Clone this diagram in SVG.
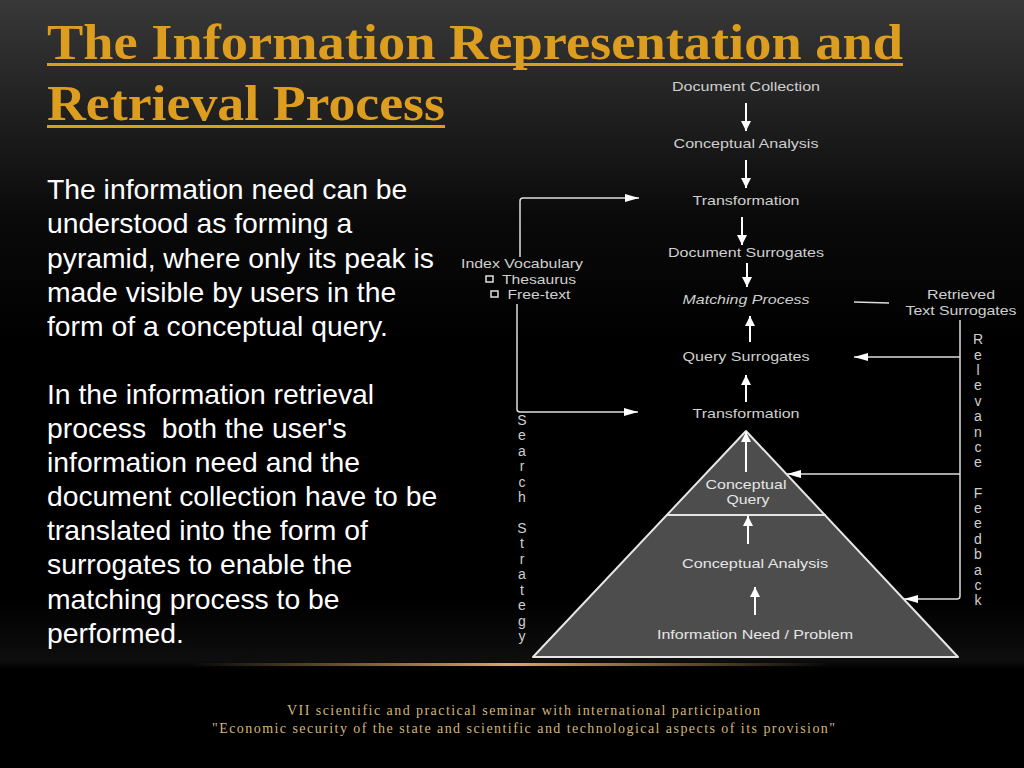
<svg xmlns="http://www.w3.org/2000/svg" width="1024" height="768" viewBox="0 0 1024 768">
<style>
.title{font-family:"Liberation Serif",serif;font-weight:bold;font-size:51px;fill:#dd9e1f}
.body{font-family:"Liberation Sans",Arial,sans-serif;font-size:28.3px;fill:#fff}
.lab{font-family:"Liberation Sans",Arial,sans-serif;font-size:13px;fill:#cfcfcf;text-anchor:middle}
.py{font-family:"Liberation Sans",Arial,sans-serif;font-size:13.5px;fill:#e6e6e6;text-anchor:middle}
.v{font-family:"Liberation Sans",Arial,sans-serif;font-size:14px;fill:#cfcfcf;text-anchor:middle}
.foot{font-family:"Liberation Serif",serif;font-size:14px;fill:#d2b67a}
.c{fill:none;stroke:#fff;stroke-width:2}
.t{fill:none;stroke:#dedede;stroke-width:1.5}
</style>
<defs>
<linearGradient id="bg" x1="0" y1="0" x2="0" y2="1"><stop offset="0" stop-color="#383838"/><stop offset="0.28" stop-color="#0a0a0a"/><stop offset="0.45" stop-color="#000"/><stop offset="0.78" stop-color="#000"/><stop offset="0.86" stop-color="#0e0e0e"/><stop offset="0.872" stop-color="#000"/><stop offset="1" stop-color="#000"/></linearGradient>
<linearGradient id="gold"><stop offset="0" stop-color="#c9a060" stop-opacity="0"/><stop offset="0.5" stop-color="#d8aa60"/><stop offset="1" stop-color="#c9a060" stop-opacity="0"/></linearGradient>
<marker id="a" viewBox="0 0 10 10" refX="10" refY="5" markerUnits="userSpaceOnUse" markerWidth="10" markerHeight="10" orient="auto"><path d="M0 0L10 5L0 10Z" fill="#fff"/></marker>
<marker id="b" viewBox="0 0 14 8" refX="14" refY="4" markerUnits="userSpaceOnUse" markerWidth="14" markerHeight="8" orient="auto"><path d="M0 0L14 4L0 8Z" fill="#fff"/></marker>
</defs>
<rect width="1024" height="768" fill="url(#bg)"/>
<rect x="190" y="663" width="640" height="3" fill="url(#gold)"/>

<g id="heading">
<text class="title" x="47" y="59" textLength="856" lengthAdjust="spacingAndGlyphs">The Information Representation and</text>
<rect x="47" y="63" width="856" height="3" fill="#dd9e1f"/>
<text class="title" x="47" y="120" textLength="398" lengthAdjust="spacingAndGlyphs">Retrieval Process</text>
<rect x="47" y="125" width="398" height="3" fill="#dd9e1f"/>
</g>

<g id="body-text">
<text class="body" x="47" y="199">The information need can be</text>
<text class="body" x="47" y="233">understood as forming a</text>
<text class="body" x="47" y="268">pyramid, where only its peak is</text>
<text class="body" x="47" y="302">made visible by users in the</text>
<text class="body" x="47" y="336">form of a conceptual query.</text>
<text class="body" x="47" y="404">In the information retrieval</text>
<text class="body" x="47" y="438" xml:space="preserve">process  both the user's</text>
<text class="body" x="47" y="472">information need and the</text>
<text class="body" x="47" y="506">document collection have to be</text>
<text class="body" x="47" y="540">translated into the form of</text>
<text class="body" x="47" y="574">surrogates to enable the</text>
<text class="body" x="47" y="609">matching process to be</text>
<text class="body" x="47" y="643">performed.</text>
</g>

<g id="pyramid">
<path d="M746 431L958 657H533Z" fill="#4d4d4d" stroke="#e6e6e6" stroke-width="2" stroke-linejoin="round"/>
<line x1="666" y1="515" x2="826" y2="515" stroke="#e6e6e6" stroke-width="2"/>
</g>

<g id="connectors">
<line class="c" x1="746" y1="103" x2="746" y2="131" marker-end="url(#a)"/>
<line class="c" x1="746" y1="160" x2="746" y2="188" marker-end="url(#a)"/>
<line class="c" x1="742" y1="217" x2="742" y2="245" marker-end="url(#a)"/>
<line class="c" x1="747" y1="263" x2="747" y2="287" marker-end="url(#a)"/>
<line class="c" x1="750" y1="342" x2="750" y2="316" marker-end="url(#a)"/>
<line class="c" x1="746" y1="402" x2="746" y2="375" marker-end="url(#a)"/>
<line class="c" x1="746" y1="472" x2="746" y2="432" marker-end="url(#a)"/>
<line class="c" x1="748" y1="544" x2="748" y2="516" marker-end="url(#a)"/>
<line class="c" x1="755" y1="615" x2="755" y2="587" marker-end="url(#a)"/>
<path class="t" d="M520 257V201Q520 198 523 198H639" marker-end="url(#b)"/>
<path class="t" d="M517 304V409Q517 412 520 412H638" marker-end="url(#b)"/>
<line class="t" x1="854" y1="302" x2="889" y2="303"/>
<path class="t" d="M960 320V596Q960 599 957 599H904" marker-end="url(#b)"/>
<line class="t" x1="960" y1="357" x2="854" y2="357" marker-end="url(#b)"/>
<line class="t" x1="960" y1="474" x2="787" y2="474" marker-end="url(#b)"/>
</g>

<g id="document-collection"><text class="lab" x="746" y="91" textLength="148" lengthAdjust="spacingAndGlyphs">Document Collection</text></g>
<g id="conceptual-analysis-top"><text class="lab" x="746" y="148" textLength="145" lengthAdjust="spacingAndGlyphs">Conceptual Analysis</text></g>
<g id="transformation-top"><text class="lab" x="746" y="205" textLength="107" lengthAdjust="spacingAndGlyphs">Transformation</text></g>
<g id="document-surrogates"><text class="lab" x="746" y="257" textLength="156" lengthAdjust="spacingAndGlyphs">Document Surrogates</text></g>
<g id="matching-process"><text class="lab" x="746" y="304" font-style="italic" textLength="127" lengthAdjust="spacingAndGlyphs">Matching Process</text></g>
<g id="query-surrogates"><text class="lab" x="746" y="361" textLength="127" lengthAdjust="spacingAndGlyphs">Query Surrogates</text></g>
<g id="transformation-bottom"><text class="lab" x="746" y="418" textLength="107" lengthAdjust="spacingAndGlyphs">Transformation</text></g>
<g id="index-vocabulary">
<text class="lab" x="522" y="268" textLength="122" lengthAdjust="spacingAndGlyphs">Index Vocabulary</text>
<rect x="486" y="276" width="7" height="6" fill="none" stroke="#dedede" stroke-width="1.5"/>
<text class="lab" x="539" y="284" textLength="74" lengthAdjust="spacingAndGlyphs">Thesaurus</text>
<rect x="491" y="291" width="7" height="6" fill="none" stroke="#dedede" stroke-width="1.5"/>
<text class="lab" x="539" y="299" textLength="63" lengthAdjust="spacingAndGlyphs">Free-text</text>
</g>
<g id="retrieved-text-surrogates">
<text class="lab" x="961" y="299" textLength="68" lengthAdjust="spacingAndGlyphs">Retrieved</text>
<text class="lab" x="961" y="315" textLength="111" lengthAdjust="spacingAndGlyphs">Text Surrogates</text>
</g>
<g id="conceptual-query">
<text class="py" x="746" y="489" textLength="81" lengthAdjust="spacingAndGlyphs">Conceptual</text>
<text class="py" x="748" y="504" textLength="43" lengthAdjust="spacingAndGlyphs">Query</text>
</g>
<g id="conceptual-analysis-pyramid"><text class="py" x="755" y="568" textLength="146" lengthAdjust="spacingAndGlyphs">Conceptual Analysis</text></g>
<g id="information-need"><text class="py" x="755" y="639" textLength="196" lengthAdjust="spacingAndGlyphs">Information Need / Problem</text></g>

<g id="search-strategy">
<text class="v" x="522" y="425">S</text><text class="v" x="522" y="440">e</text><text class="v" x="522" y="456">a</text><text class="v" x="522" y="471">r</text><text class="v" x="522" y="487">c</text><text class="v" x="522" y="502">h</text>
<text class="v" x="522" y="533">S</text><text class="v" x="522" y="548">t</text><text class="v" x="522" y="564">r</text><text class="v" x="522" y="579">a</text><text class="v" x="522" y="595">t</text><text class="v" x="522" y="610">e</text><text class="v" x="522" y="626">g</text><text class="v" x="522" y="641">y</text>
</g>
<g id="relevance-feedback">
<text class="v" x="978" y="344">R</text><text class="v" x="978" y="360">e</text><text class="v" x="978" y="375">l</text><text class="v" x="978" y="390">e</text><text class="v" x="978" y="406">v</text><text class="v" x="978" y="421">a</text><text class="v" x="978" y="437">n</text><text class="v" x="978" y="452">c</text><text class="v" x="978" y="467">e</text>
<text class="v" x="978" y="498">F</text><text class="v" x="978" y="513">e</text><text class="v" x="978" y="528">e</text><text class="v" x="978" y="544">d</text><text class="v" x="978" y="559">b</text><text class="v" x="978" y="575">a</text><text class="v" x="978" y="590">c</text><text class="v" x="978" y="605">k</text>
</g>

<g id="footer">
<text class="foot" x="287" y="715" textLength="473">VII scientific and practical seminar with international participation</text>
<text class="foot" x="212" y="733" textLength="623">"Economic security of the state and scientific and technological aspects of its provision"</text>
</g>
</svg>
